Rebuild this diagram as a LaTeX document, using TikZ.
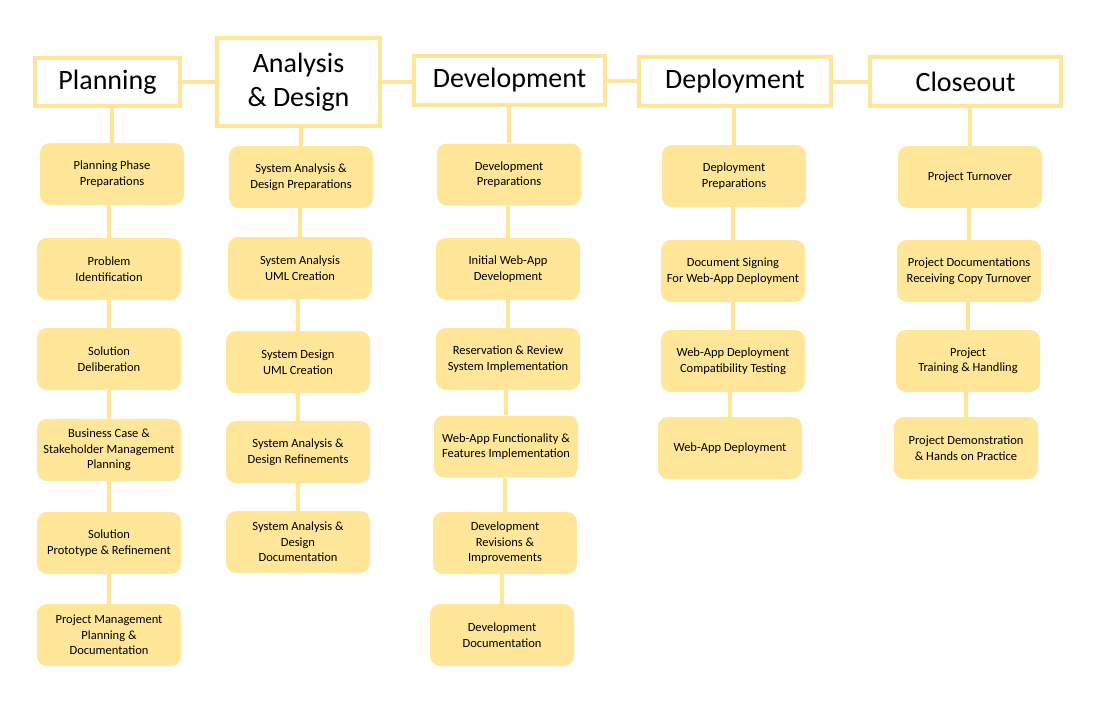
\documentclass[tikz,border=0pt]{standalone}
\usepackage{fontspec}
\setmainfont{Carlito}
\usetikzlibrary{backgrounds}
\definecolor{gold}{HTML}{FFE699}
\definecolor{goldline}{HTML}{FFE597}
\tikzset{
  header/.style={draw=goldline, line width=4pt, fill=white, inner sep=0pt, align=center,
    font=\fontsize{28}{34}\selectfont, text=black},
  task/.style={fill=gold, rounded corners=10pt, minimum width=144pt, minimum height=62pt,
    inner sep=2pt, align=center, font=\fontsize{12.5}{15.5}\selectfont, text=black},
  link/.style={draw=goldline, line width=4pt}
}
\begin{document}
\begin{tikzpicture}[x=1pt,y=-1pt]
\useasboundingbox (0,0) rectangle (1100,710);
% headers
\node[header, minimum width=145pt, minimum height=48pt] (h1) at (107.5,82) {Planning};
\node[header, minimum width=163pt, minimum height=88pt] (h2) at (298.5,82) {Analysis\\ \& Design};
\node[header, minimum width=191pt, minimum height=49pt] (h3) at (509.5,80.5) {Development};
\node[header, minimum width=192pt, minimum height=49pt] (h4) at (735,81.5) {Deployment};
\node[header, minimum width=191pt, minimum height=49pt] (h5) at (965.5,81.5) {Closeout};
% Planning
\node[task] (p1) at (112,174) {Planning Phase\\Preparations};
\node[task] (p2) at (109,269) {Problem\\Identification};
\node[task] (p3) at (109,359) {Solution\\Deliberation};
\node[task] (p4) at (109,450) {Business Case \&\\Stakeholder Management\\Planning};
\node[task] (p5) at (109,543) {Solution\\Prototype \& Refinement};
\node[task] (p6) at (109,635) {Project Management\\Planning \&\\Documentation};
% Analysis
\node[task] (a1) at (301,177) {System Analysis \&\\Design Preparations};
\node[task] (a2) at (300,268) {System Analysis\\UML Creation};
\node[task] (a3) at (298,362) {System Design\\UML Creation};
\node[task] (a4) at (298,452) {System Analysis \&\\Design Refinements};
\node[task] (a5) at (298,542) {System Analysis \&\\Design\\Documentation};
% Development
\node[task] (d1) at (509,174.5) {Development\\Preparations};
\node[task] (d2) at (508,269) {Initial Web-App\\Development};
\node[task] (d3) at (508,359) {Reservation \& Review\\System Implementation};
\node[task] (d4) at (506,446.5) {Web-App Functionality \&\\Features Implementation};
\node[task] (d5) at (505,543) {Development\\Revisions \&\\Improvements};
\node[task] (d6) at (502,635) {Development\\Documentation};
% Deployment
\node[task] (e1) at (734,176) {Deployment\\Preparations};
\node[task] (e2) at (733,271) {Document Signing\\For Web-App Deployment};
\node[task] (e3) at (733,361) {Web-App Deployment\\Compatibility Testing};
\node[task] (e4) at (730,448) {Web-App Deployment};
% Closeout
\node[task] (c1) at (970,177) {Project Turnover};
\node[task] (c2) at (969,271) {Project Documentations\\Receiving Copy Turnover};
\node[task] (c3) at (968,361) {Project\\Training \& Handling};
\node[task] (c4) at (966,448) {Project Demonstration\\\& Hands on Practice};
\begin{scope}[on background layer]
  \foreach \a/\b in {h1/h2,h2/h3,h3/h4,h4/h5}
    \draw[link] (\a.east) -- (\a.east -| \b.west);
  \foreach \a/\b in {h1/p1,p1/p2,p2/p3,p3/p4,p4/p5,p5/p6,
                     h2/a1,a1/a2,a2/a3,a3/a4,a4/a5,
                     h3/d1,d1/d2,d2/d3,d3/d4,d4/d5,d5/d6,
                     h4/e1,e1/e2,e2/e3,e3/e4,
                     h5/c1,c1/c2,c2/c3,c3/c4}
    \draw[link] (\b.north |- \a.south) -- (\b.north);
\end{scope}
\end{tikzpicture}
\end{document}
